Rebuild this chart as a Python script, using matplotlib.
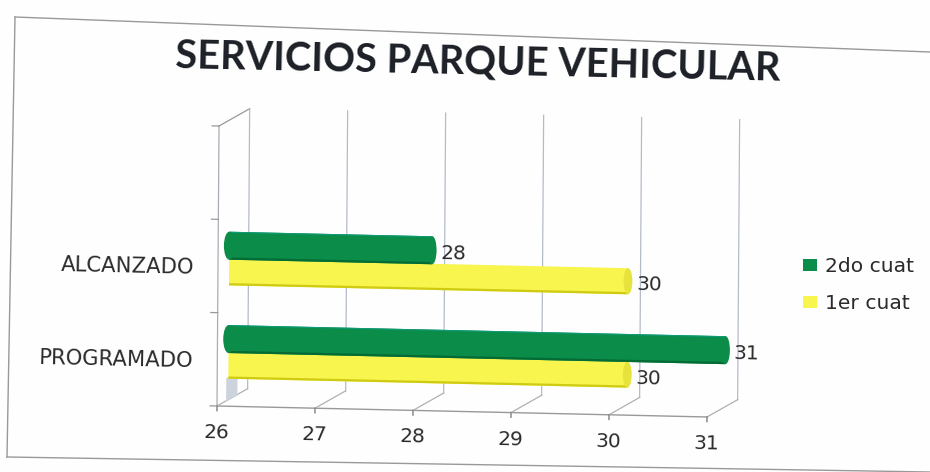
import matplotlib
matplotlib.use("Agg")
import matplotlib.pyplot as plt
from matplotlib.transforms import Affine2D
from matplotlib.patches import Ellipse, Patch
from matplotlib.lines import Line2D

title = "SERVICIOS PARQUE VEHICULAR"
categories = ["PROGRAMADO", "ALCANZADO"]
series_2do = [31, 28]
series_1er = [30, 30]
series_names = ["2do cuat", "1er cuat"]
x_ticks = [26, 27, 28, 29, 30, 31]

W, H = 930, 472
GREEN, GREEN_D, GREEN_L = "#0b8c48", "#046b35", "#0f9a78"
YEL, YEL_D, YEL_C = "#f7f54e", "#cfcb12", "#e6e33c"
GRID = "#b4bbc8"
AX = "#8c8c8c"
TXT = "#2b2b2b"

fig = plt.figure(figsize=(W / 100, H / 100), dpi=100, facecolor="#fefefe")
X0, Y0 = 217, H - 406
ax = fig.add_axes([X0 / W, Y0 / H, 490 / W, 280 / H])
ax.set_xlim(26, 31)
ax.set_ylim(0, 3)
ax.patch.set_visible(False)
for s in ax.spines.values():
    s.set_visible(False)

k, m = 0.0072, -0.0224
shear = Affine2D([[1, k, -k * Y0], [m, 1, -m * X0], [0, 0, 1]])
S = ax.transData + shear
DX, DY = 30.5 / 98, 18 / 93.33   # wall depth
BAR = Affine2D().translate(18 / 98, 0) + S  # bars sit at mid depth


def line(xs, ys, c=AX, lw=0.9, z=1):
    ax.plot(xs, ys, color=c, lw=lw, transform=S, clip_on=False, zorder=z)


# walls, grid, floor
line([26, 26], [0, 3], "#a8acb4")
line([26, 31], [0, 0], "#999999", 1.0)
line([26, 26 + DX], [3, 3 + DY], "#999999")
for x in x_ticks:
    line([x + DX, x + DX], [DY, 3 + DY], GRID)
    line([x, x + DX], [0, DY], "#b0b0b0")
    line([x, x], [0, -0.05], "#808080", 1.0)
for y in range(4):
    line([26, 25.93], [y, y], "#999999")
ax.fill([26.1, 26.2, 26.2, 26.1], [0.06, 0.12, 0.3, 0.3], color="#ccd3dc",
        transform=S, zorder=1, clip_on=False)

# bars
pos = list(range(len(categories)))
BASE = 25.93
H_G, H_Y = 0.30, 0.28
OFF_G, OFF_Y = 0.72, 0.435


def strip(y, v, h, col, z):
    b = ax.barh([y], [v - BASE], left=BASE, height=h, color=col, lw=0, zorder=z)
    b[0].set_transform(BAR)
    b[0].set_clip_on(False)


def cylinder(y, v, h, col, dark, cap, left_round, z, light=None):
    strip(y, v, h, col, z)
    strip(y - h / 2 + 0.012, v, 0.024, dark, z + 0.1)
    if light:
        strip(y + h / 2 - 0.006, v, 0.012, light, z + 0.1)
    ax.add_patch(Ellipse((v, y), 0.09, h, color=cap, lw=0, zorder=z + 0.2,
                         transform=BAR, clip_on=False))
    if left_round:
        ax.add_patch(Ellipse((BASE, y), 0.11, h, color=col, lw=0, zorder=z + 0.2,
                             transform=BAR, clip_on=False))


for p, g, y_ in zip(pos, series_2do, series_1er):
    cylinder(p + OFF_Y, y_, H_Y, YEL, YEL_D, YEL_C, False, 3)
    cylinder(p + OFF_G, g, H_G, GREEN, GREEN_D, GREEN, True, 4, GREEN_L)
    for v, yy in ((g, p + OFF_G), (y_, p + OFF_Y)):
        ax.annotate(str(v), (v, yy), xycoords=BAR, xytext=(6, -2.5),
                    textcoords="offset points", fontsize=14.5, color=TXT,
                    ha="left", va="center", rotation=-1.2,
                    rotation_mode="anchor", zorder=6)

# axis ticks and labels
ax.set_xticks(x_ticks, [str(v) for v in x_ticks])
ax.set_yticks([p + 0.5 for p in pos], categories)
ax.tick_params(axis="x", length=0, pad=12.5, labelsize=14.5, labelcolor=TXT)
ax.tick_params(axis="y", length=0, pad=17, labelsize=15.2, labelcolor=TXT)
fig.canvas.draw()
for lab in ax.get_xticklabels() + ax.get_yticklabels():
    lab.set_transform(lab.get_transform() + shear)
    lab.set_rotation(-1.2)
    lab.set_rotation_mode("anchor")

# legend
handles = [Patch(facecolor=GREEN, label=series_names[0]),
           Patch(facecolor=YEL, label=series_names[1])]
leg = fig.legend(handles=handles, loc="upper left", frameon=False,
                 bbox_to_anchor=(787 / W, (H - 241) / H), fontsize=14.6,
                 handlelength=0.7, handleheight=0.55, handletextpad=0.35,
                 labelspacing=0.9, labelcolor=TXT, borderpad=0.3)

# title
fig.suptitle(title, x=478 / W, y=(H - 62) / H, ha="center", va="center",
             family="Lato", weight="bold", fontsize=28.5, color="#1c2026",
             rotation=-1.2, rotation_mode="anchor")

# scanned page frame
def frame(p, q):
    fig.add_artist(Line2D([p[0] / W, q[0] / W], [1 - p[1] / H, 1 - q[1] / H],
                          color="#999999", lw=1.0))


frame((15, 17), (930, 52))
frame((15, 17), (7, 457))
frame((7, 457), (930, 472))

fig.savefig("out.png", dpi=100, facecolor=fig.get_facecolor())
